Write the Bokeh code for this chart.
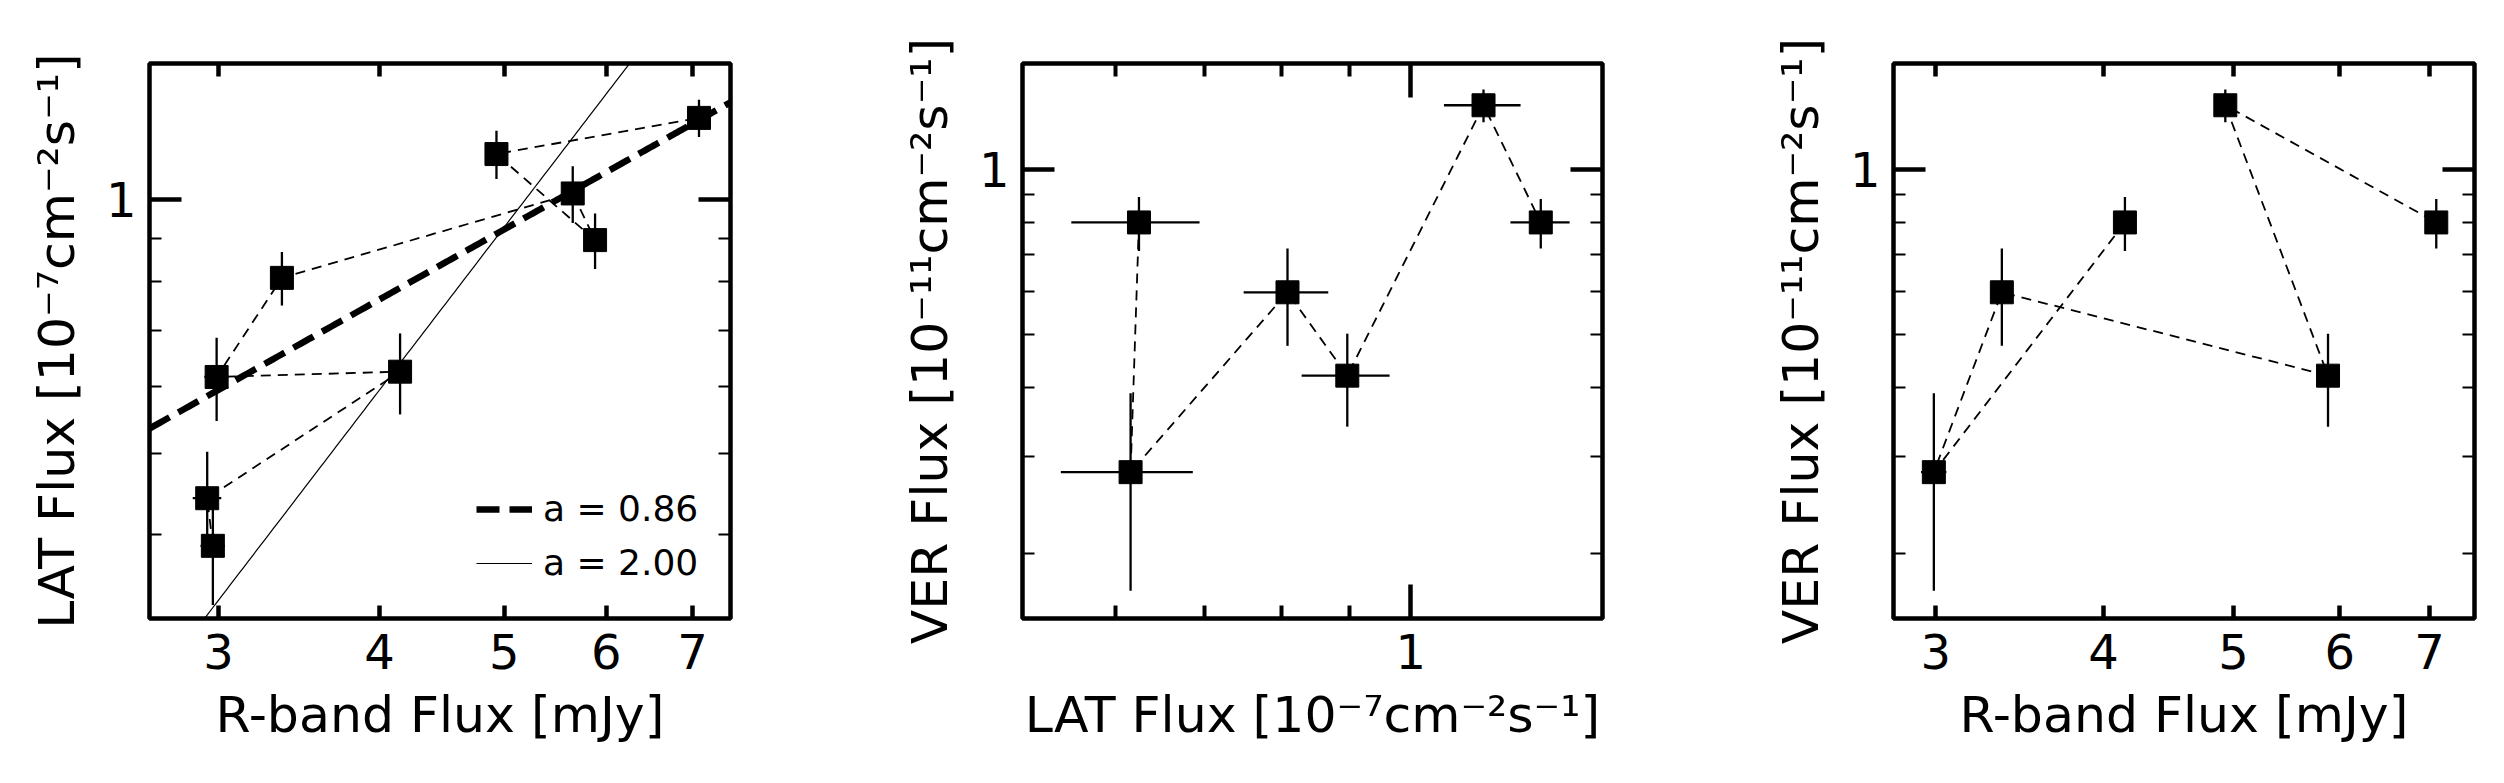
import numpy as np
from bokeh.plotting import figure
from bokeh.models import (FixedTicker, LogAxis, Legend, LegendItem, CustomJSTickFormatter,
                          PrintfTickFormatter, Range1d, ColumnDataSource)
from bokeh.layouts import row
from bokeh.embed import file_html
from bokeh.resources import INLINE

# ---------------- data (time ordered epochs) ----------------
rband = [2.97, 2.94, 4.15, 2.99, 3.36, 5.65, 5.88, 4.93, 7.08]
rband_err = [0.065, 0.075, 0.06, 0.065, 0.06, 0.06, 0.06, 0.06, 0.06]
lat = [0.388, 0.442, 0.625, 0.616, 0.808, 1.018, 0.896, 1.134, 1.252]
lat_err = [0.058, 0.06, 0.069, 0.07, 0.059, 0.079, 0.068, 0.075, 0.064]
ver = [np.nan, np.nan, 0.800, 0.281, 0.597, np.nan, 0.421, 1.307, 0.800]
ver_err = [np.nan, np.nan, 0.09, 0.11, 0.12, np.nan, 0.081, 0.09, 0.083]

fit_slopes = [0.86, 2.00]
fit_norms = [0.2312, 0.03715]
fit_labels = ["a = 0.86", "a = 2.00"]

rband_ticks = [3, 4, 5, 6, 7]
unit_ticks = [1]
lat_minor = [0.6, 0.7, 0.8, 0.9]
lat_y_minor = [0.4, 0.5, 0.6, 0.7, 0.8, 0.9]
ver_minor = [0.2, 0.3, 0.4, 0.5, 0.6, 0.7, 0.8, 0.9]

R_LABEL = "R-band Flux [mJy]"
LAT_LABEL = "LAT Flux [10\u207b\u2077cm\u207b\u00b2s\u207b\u00b9]"
VER_LABEL = "VER Flux [10\u207b\u00b9\u00b9cm\u207b\u00b2s\u207b\u00b9]"

FONT = "DejaVu Sans"
TICK_FS = "48px"
LABEL_FS = "50.5px"


def style_axis(ax, major, minor, major_len, major_w, minor_len, minor_w, labelled, standoff):
    ax.ticker = FixedTicker(ticks=major, minor_ticks=minor)
    ax.axis_line_color = None
    ax.major_tick_in = major_len
    ax.major_tick_out = 0
    ax.major_tick_line_width = major_w
    ax.minor_tick_in = minor_len
    ax.minor_tick_out = 0
    ax.minor_tick_line_width = minor_w
    ax.major_tick_line_color = "black"
    ax.minor_tick_line_color = "black"
    if labelled:
        ax.formatter = PrintfTickFormatter(format="%d")
        ax.major_label_text_font = FONT
        ax.major_label_text_font_size = TICK_FS
        ax.major_label_text_color = "black"
        ax.major_label_standoff = standoff
        ax.axis_label_text_font = FONT
        ax.axis_label_text_font_size = LABEL_FS
        ax.axis_label_text_font_style = "normal"
        ax.axis_label_text_color = "black"
    else:
        ax.formatter = CustomJSTickFormatter(code="return ''")
        ax.major_label_text_font_size = "1px"
        ax.major_label_standoff = 0


def make_fig(width, bl, br, xr, yr, xlabel, ylabel, xspec, yspec):
    p = figure(width=width, height=767, x_axis_type="log", y_axis_type="log",
               x_range=Range1d(*xr), y_range=Range1d(*yr),
               min_border_left=bl, min_border_right=br, min_border_top=63, min_border_bottom=149,
               output_backend="svg", toolbar_location=None)
    p.grid.visible = False
    p.outline_line_color = "black"
    p.outline_line_width = 4.5
    p.background_fill_color = "white"
    p.border_fill_color = "white"

    xa = p.xaxis[0]
    ya = p.yaxis[0]
    style_axis(xa, *xspec, True, 15)
    style_axis(ya, *yspec, True, 13)
    xa.axis_label = xlabel
    xa.axis_label_standoff = 13
    ya.axis_label = ylabel
    ya.axis_label_standoff = 17

    top = LogAxis()
    style_axis(top, *xspec, False, 0)
    p.add_layout(top, "above")
    right = LogAxis()
    style_axis(right, *yspec, False, 0)
    p.add_layout(right, "right")
    return p


def draw_points(p, x, y, xe, ye):
    x = np.asarray(x, float)
    y = np.asarray(y, float)
    xe = np.asarray(xe, float)
    ye = np.asarray(ye, float)
    src = ColumnDataSource(dict(x=x, y=y, x0=x - xe, x1=x + xe, y0=y - ye, y1=y + ye))
    p.line("x", "y", source=src, line_color="black", line_width=1.8, line_dash="10 7")
    p.segment(x0="x0", y0="y", x1="x1", y1="y", source=src, line_color="black", line_width=2.3)
    p.segment(x0="x", y0="y0", x1="x", y1="y1", source=src, line_color="black", line_width=2.3)
    p.scatter("x", "y", source=src, marker="square", size=23, fill_color="black", line_color="black")


x_rband_spec = (rband_ticks, [], 13, 4.5, 0, 1)
y_lat_spec = (unit_ticks, lat_y_minor, 32, 4.5, 12, 2)
x_lat_spec = (unit_ticks, lat_minor, 34, 4.5, 13, 4)
y_ver_spec = (unit_ticks, ver_minor, 32, 4.5, 12, 2)

# ---------------- panel 1: LAT vs R-band ----------------
p1 = make_fig(870, 149, 140, (2.652, 7.49), (0.318, 1.453), R_LABEL, LAT_LABEL, x_rband_spec, y_lat_spec)
draw_points(p1, rband, lat, rband_err, lat_err)
xf = np.linspace(2.652, 7.49, 200)
fit_styles = [dict(line_width=6.5, line_dash="23 10"), dict(line_width=1.2)]
items = []
for a, k, lab, st in zip(fit_slopes, fit_norms, fit_labels, fit_styles):
    r = p1.line(xf, k * xf ** a, line_color="black", **st)
    items.append(LegendItem(label=lab, renderers=[r]))
leg = Legend(items=items, location=(327, 35), label_text_font=FONT, label_text_font_size="36px",
             label_text_color="black", glyph_width=56, glyph_height=40, label_height=40,
             label_standoff=11, spacing=13, padding=0, margin=0,
             border_line_color=None, background_fill_alpha=0)
p1.add_layout(leg)

# ---------------- panel 2: VER vs LAT ----------------
mask = [not np.isnan(v) for v in ver]
lat_v = [l for l, m in zip(lat, mask) if m]
lat_ev = [l for l, m in zip(lat_err, mask) if m]
rb_v = [l for l, m in zip(rband, mask) if m]
rb_ev = [l for l, m in zip(rband_err, mask) if m]
ver_v = [l for l, m in zip(ver, mask) if m]
ver_ev = [l for l, m in zip(ver_err, mask) if m]

p2 = make_fig(870, 152, 138, (0.511, 1.393), (0.1522, 1.557), LAT_LABEL, VER_LABEL, x_lat_spec, y_ver_spec)
draw_points(p2, lat_v, ver_v, lat_ev, ver_ev)

# ---------------- panel 3: VER vs R-band ----------------
p3 = make_fig(756, 153, 22, (2.79, 7.56), (0.1522, 1.557), R_LABEL, VER_LABEL, x_rband_spec, y_ver_spec)
draw_points(p3, rb_v, ver_v, rb_ev, ver_ev)

layout = row(p1, p2, p3)
open("out.html", "w").write(file_html(layout, INLINE))
